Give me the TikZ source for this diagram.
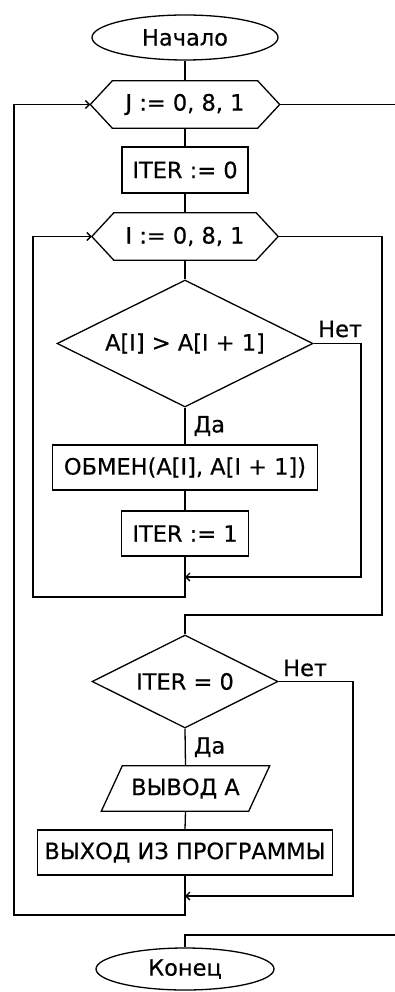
\documentclass[tikz,border=0pt]{standalone}
\usepackage{fontspec}
\setmainfont[FakeBold=0.4]{DejaVu Sans}
\usetikzlibrary{shapes.geometric,arrows.meta}
\begin{document}
\begin{tikzpicture}[x=1pt,y=-1pt,
  every node/.style={font=\fontsize{22.5}{25}\selectfont, inner sep=0pt, text=black},
  line/.style={line width=1.3pt, draw=black},
  proc/.style={line, rectangle, draw},
  term/.style={line, ellipse, draw},
  dec/.style={line, diamond, draw, aspect=2},
  arr/.style={line, -{Straight Barb[length=4pt,width=8pt]}},
]
\useasboundingbox (0,0) rectangle (395,992);
% nodes
\node[term, minimum width=186pt, minimum height=45pt] (start) at (185,37.5) {Начало};
\node[minimum width=189pt, minimum height=47pt] (J) at (185,104.5) {J := 0, 8, 1};
\draw[line] (J.west) -- ([xshift=22pt]J.north west) -- ([xshift=-22pt]J.north east) -- (J.east) -- ([xshift=-22pt]J.south east) -- ([xshift=22pt]J.south west) -- cycle;
\node[proc, minimum width=126pt, minimum height=46pt] (it0) at (185,170) {ITER := 0};
\node[minimum width=186pt, minimum height=47pt] (I) at (185,236.5) {I := 0, 8, 1};
\draw[line] (I.west) -- ([xshift=22pt]I.north west) -- ([xshift=-22pt]I.north east) -- (I.east) -- ([xshift=-22pt]I.south east) -- ([xshift=22pt]I.south west) -- cycle;
\node[dec, minimum width=256pt, minimum height=127pt] (d1) at (185,343.5) {A[I] > A[I + 1]};
\node[proc, minimum width=265pt, minimum height=45pt] (swap) at (185,467.5) {ОБМЕН(A[I], A[I + 1])};
\node[proc, minimum width=127pt, minimum height=45pt] (it1) at (185,533.5) {ITER := 1};
\coordinate (m1) at (185,577);
\node[dec, minimum width=186pt, minimum height=93pt] (d2) at (185,681.5) {ITER = 0};
\node[minimum width=147pt, minimum height=45pt] (out) at (185.5,788.5) {ВЫВОД А};
\draw[line] ([xshift=10.5pt]out.north west) -- ([xshift=10.5pt]out.north east) -- ([xshift=-10.5pt]out.south east) -- ([xshift=-10.5pt]out.south west) -- cycle;
\node[proc, minimum width=295pt, minimum height=45pt] (exit) at (185,852.5) {ВЫХОД ИЗ ПРОГРАММЫ};
\coordinate (m2) at (185,896);
\node[term, minimum width=178pt, minimum height=42pt] (end) at (185,969) {Конец};
% labels
\node[anchor=base west] (no1) at (318,337) {Нет};
\node[anchor=base west] (no2) at (283,676) {Нет};
% helper coordinates
\coordinate (r1) at (361,343.5);
\coordinate (l1) at (33,597);
\coordinate (r2) at (382,615);
\coordinate (r3) at (353,681.5);
\coordinate (l2) at (14,915);
\coordinate (jx) at (398,104.5);
\coordinate (ex) at (398,935);
% connectors
\draw[line] (start.south) -- (J.north);
\draw[line] (J.south) -- (it0.north);
\draw[line] (it0.south) -- (I.north);
\draw[line] (I.south) -- (d1.north);
\draw[line] (d1.south) -- node[anchor=west, xshift=8pt] (yes1) {Да} (swap.north);
\draw[line] (swap.south) -- (it1.north);
\draw[line] (it1.south) -- (m1);
\draw[arr] (d1.east) -- (r1) |- (m1);
\draw[arr] (m1) -- (m1 |- l1) -- (l1) |- (I.west);
\draw[line] (I.east) -| (r2) -- (r2 -| d2.north) -- (d2.north);
\draw[line] (d2.south) -- node[anchor=west, xshift=8pt] (yes2) {Да} (out.north);
\draw[line] (out.south) -- (exit.north);
\draw[line] (exit.south) -- (m2);
\draw[arr] (d2.east) -- (r3) |- (m2);
\draw[arr] (m2) -- (m2 |- l2) -- (l2) |- (J.west);
\draw[line] (J.east) -- (jx);
\draw[line] (ex) -| (end.north);
\end{tikzpicture}
\end{document}
